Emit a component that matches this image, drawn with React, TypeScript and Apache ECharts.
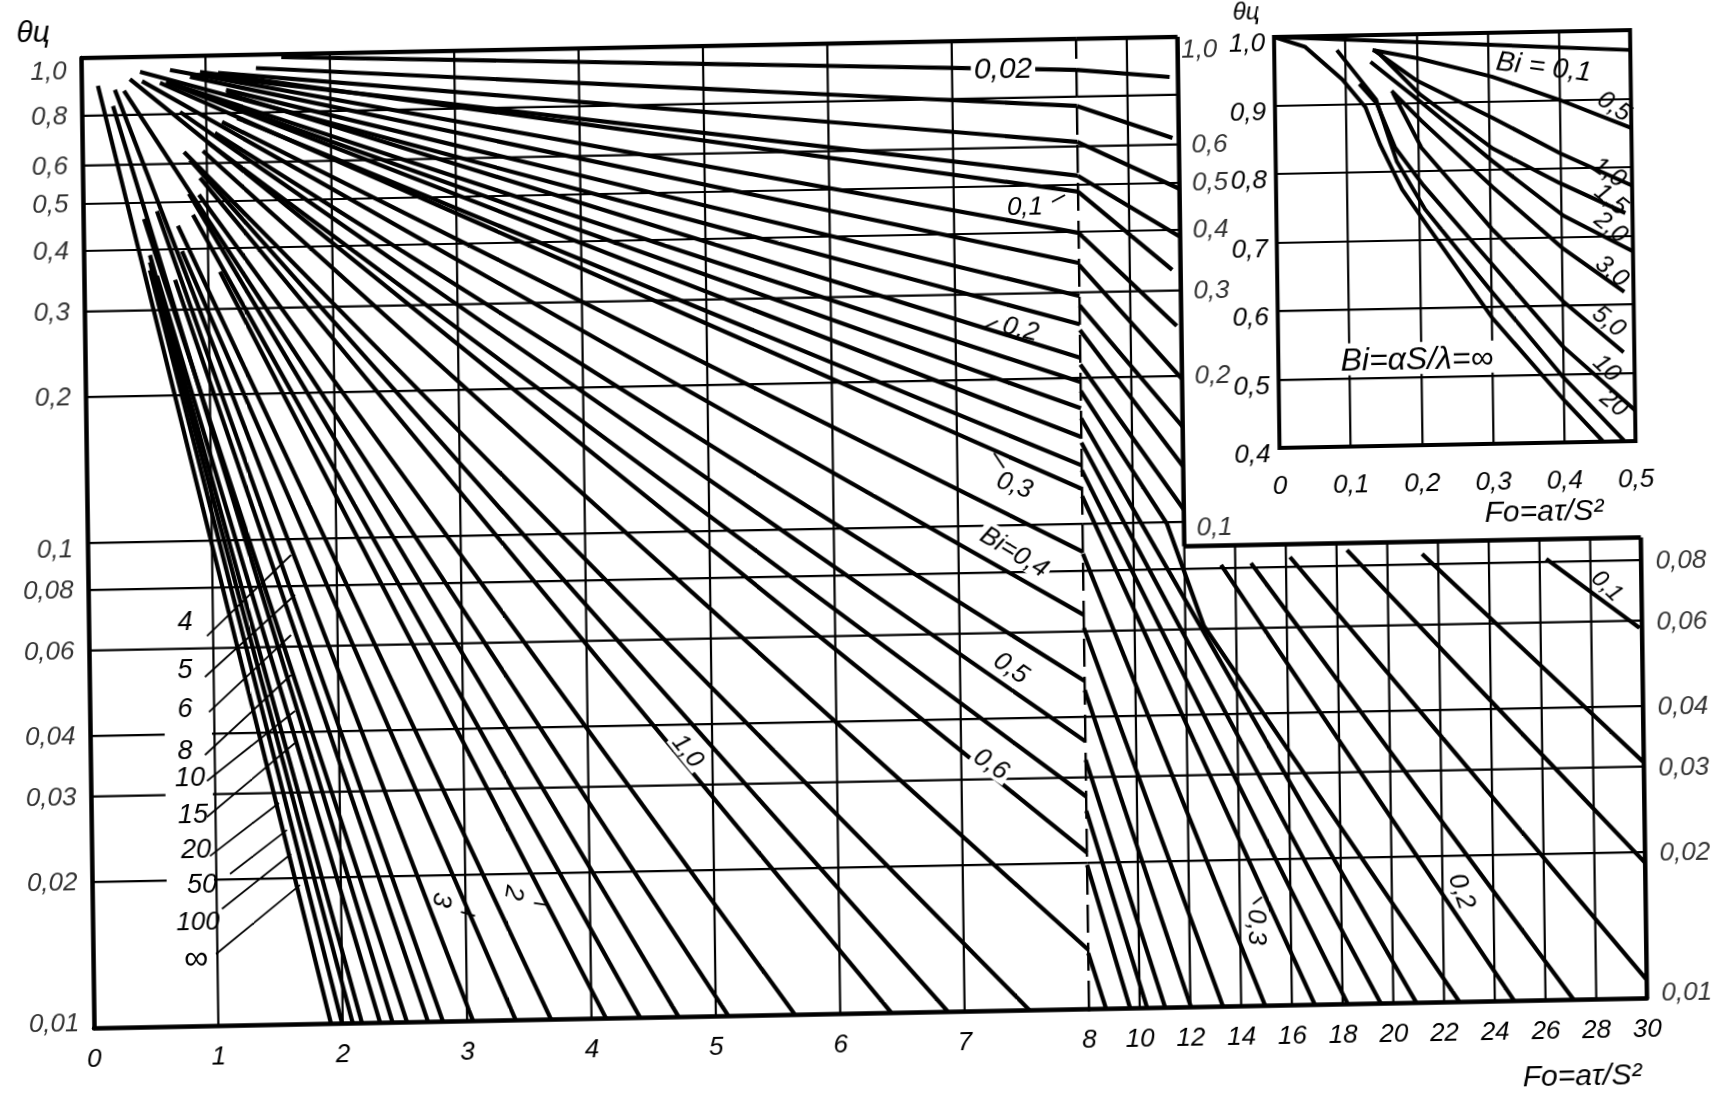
import React, { useEffect, useRef } from "react";
import * as echarts from "echarts";

// ---- main chart: curves that reach Fo = 8 on the left part
const shallowBi = ["0,02","0,04","0,06","0,08","0,1","0,12","0,14","0,16","0,18","0,2","0,22","0,24","0,26","0,28","0,3","0,35","0,4","0,45","0,5","0,55","0,6","0,7"];
const shallowFoStart = [1.61,1.405,1.10,0.93,0.955,0.714,0.874,1.162,0.473,1.162,0.712,0.953,0.68,1.248,0.632,1.126,0.488,1.068,0.79,1.004,0.391,0.97];
const shallowThetaStart = [0.986,0.938,0.92,0.913,0.926,0.937,0.905,0.848,0.931,0.836,0.881,0.83,0.885,0.741,0.882,0.729,0.891,0.692,0.767,0.664,0.90,0.636];
const shallowThetaAt8 = [0.863,0.727,0.613,0.522,0.484,0.398,0.345,0.295,0.258,0.22,0.196,0.173,0.151,0.132,0.118,0.0875,0.0649,0.0474,0.0356,0.0274,0.021,0.01324];

// ---- curves that reach the bottom (0,01) before Fo = 8
const steepBi = ["0,8","0,9","1,0","1,2","1,4","1,6","1,8","2","2,5","3","4","5","6","8","10","15","20","50","100","∞"];
const steepFoStart = [0.818,0.865,0.944,0.933,0.342,0.853,0.883,1.094,0.761,0.791,0.269,0.594,0.732,0.489,0.252,0.587,0.533,0.532,0.531,0.133];
const steepThetaStart = [0.634,0.61,0.56,0.517,0.852,0.52,0.47,0.358,0.447,0.396,0.857,0.48,0.346,0.463,0.794,0.353,0.39,0.377,0.363,0.875];
const steepFoBottom = [7.52,6.865,6.41,5.635,5.10,4.70,4.39,4.116,3.674,3.39,3.047,2.805,2.685,2.516,2.40,2.30,2.154,2.08,1.994,1.905];

// ---- right part (Fo 8..30)
const rightTopBi = ["0,02","0,04","0,06","0,08","0,1","0,12","0,14","0,16","0,18","0,2"];
const rightTopTheta8 = [0.863,0.727,0.613,0.522,0.484,0.398,0.342,0.282,0.251,0.213];
const rightTopFoEnd = [11.67,11.75,12,12,11.67,11.82,12,12,12,12];
const rightTopThetaEnd = [0.827,0.619,0.486,0.387,0.331,0.2535,0.197,0.157,0.13,0.106];

const rightLowBi = ["0,24","0,26","0,28","0,3","0,35","0,4","0,45","0,5","0,55","0,6","0,7"];
const rightLowTheta8 = [0.165,0.147,0.129,0.114,0.0867,0.061,0.0454,0.0326,0.0256,0.0198,0.01303];
const rightLowFoBottom = [20.9,19.5,18.2,16.9,14.94,13.28,12.02,11.0,10.29,9.62,8.67];
const curve022Right: [number, number][] = [[8,0.188],[11.33,0.0992],[12.73,0.0609],[22.6,0.01]];

const tailBi = ["0,2","0,18","0,16","0,14","0,12","0,1"];
const tailFoStart = [13.44,14.62,16.16,18.41,21.37,26.26];
const tailThetaStart = [0.0812,0.0817,0.0838,0.0862,0.084,0.0811];
const tailFoEnd = [24.76,27.1,30,30,30,29.9];
const tailThetaEnd = [0.01,0.01,0.0109,0.019,0.0306,0.058];

// ---- inset
const insetCurves: [string, [number, number][]][] = [
  ["0,1", [[0,1],[0.5,0.971]]],
  ["0,5", [[0.138,0.978],[0.201,0.965],[0.305,0.936],[0.4,0.9],[0.5,0.857]]],
  ["1,0", [[0.14,0.978],[0.2,0.932],[0.305,0.876],[0.4,0.822],[0.5,0.773]]],
  ["1,5", [[0.149,0.971],[0.204,0.912],[0.305,0.831],[0.398,0.779],[0.49,0.733]]],
  ["2,0", [[0.135,0.961],[0.206,0.9],[0.304,0.813],[0.403,0.731],[0.5,0.677]]],
  ["3,0", [[0.164,0.918],[0.205,0.874],[0.304,0.775],[0.402,0.683],[0.487,0.618]]],
  ["5,0", [[0.166,0.915],[0.205,0.834],[0.303,0.713],[0.401,0.606],[0.485,0.53]]],
  ["10", [[0.119,0.929],[0.143,0.9],[0.168,0.835],[0.207,0.779],[0.302,0.662],[0.4,0.54],[0.5,0.445]]],
  ["20", [[0.088,0.979],[0.142,0.906],[0.17,0.815],[0.209,0.744],[0.301,0.622],[0.4,0.495],[0.484,0.401]]],
  ["∞", [[0,1],[0.043,0.985],[0.095,0.936],[0.127,0.895],[0.147,0.84],[0.177,0.774],[0.206,0.729],[0.301,0.584],[0.402,0.46],[0.455,0.4]]],
];

// ---- axis ticks (the row labelled 0,8 is drawn a little low in the source, so it is read as 0,76)
const leftYTicks = [1,0.76,0.6,0.5,0.4,0.3,0.2,0.1,0.08,0.06,0.04,0.03,0.02,0.01];
const leftYLabels = ["1,0","0,8","0,6","0,5","0,4","0,3","0,2","0,1","0,08","0,06","0,04","0,03","0,02","0,01"];
const gappedY = [0.04,0.03,0.02];
const leftVerticals = [1,2,3,4,5,6,7];
const rightTopY = [0.76,0.6,0.5,0.4,0.3,0.2,0.1];
const rightTopTicks = [1,0.6,0.5,0.4,0.3,0.2,0.1];
const rightTopLabels = ["1,0","0,6","0,5","0,4","0,3","0,2","0,1"];
const rightLowY = [0.08,0.06,0.04,0.03,0.02];
const rightLowTicks = [0.08,0.06,0.04,0.03,0.02,0.01];
const rightLowLabels = ["0,08","0,06","0,04","0,03","0,02","0,01"];
const rightTallVerticals = [10,12];
const rightShortVerticals = [14,16,18,20,22,24,26,28,30];
const lowFrameTop = 0.089;

// ---- text annotations: [text, imageX, imageY, clockwise degrees, size, white box]
const notes: [string, number, number, number, number, boolean][] = [
  ["0,02",1003,68,0,30,true],["0,1",1025,206,0,26,false],["0,2",1021,328,15,26,false],["0,3",1015,484,20,26,false],
  ["Bi=0,4",1015,551,32,26,true],["0,5",1012,667,35,26,true],["0,6",992,763,35,26,true],["1,0",689,750,52,25,true],
  ["2",515,893,100,26,false],["3",443,900,100,26,false],
  ["4",185,621,0,27,false],["5",185,669,0,27,false],["6",185,708,0,27,false],["8",185,750,0,27,false],["10",190,777,0,27,false],
  ["15",193,814,0,27,false],["20",196,849,0,27,false],["50",202,884,0,27,false],["100",198,921,0,26,false],["∞",196,957,0,34,false],
  ["0,1",1608,585,45,24,false],["0,2",1463,891,72,26,false],["0,3",1258,927,90,26,false],
  ["Bi = 0,1",1544,66,8,28,false],["0,5",1615,105,35,25,false],["1,0",1610,171,35,25,false],["1,5",1612,198,40,25,false],
  ["2,0",1612,226,40,25,false],["3,0",1613,270,40,25,false],["5,0",1610,320,40,25,false],["10",1608,367,45,25,false],["20",1615,402,40,25,false],
  ["Bi=αS/λ=∞",1417,358,0,32,true],
  ["θц",33,31,0,30,false],["θц",1246,11,0,24,false],
  ["Fo=aτ/S²",1582,1075,0,30,false],["Fo=aτ/S²",1544,510,0,30,false],
];
// ---- thin leaders: imageX1, imageY1, imageX2, imageY2
const leaders = [
  [207,636,291,555],[205,677,295,595],[209,712,291,635],[205,755,291,675],[207,781,295,711],
  [207,817,295,743],[210,856,279,803],[230,874,287,830],[222,909,291,854],[216,954,300,885],
  [994,453,1004,468],[983,328,998,321],[1052,202,1065,195],[1253,904,1262,897],[461,912,475,916],[534,903,547,905],
];

const FONT = '"Liberation Sans",sans-serif';
const SKEW_X = 0.0134, SKEW_Y = -0.0193, SHIFT_X = -13.78, SHIFT_Y = 1.81;
const toChart = (X: number, Y: number) => {
  const dx = X - SHIFT_X, dy = Y - SHIFT_Y, det = 1 - SKEW_X * SKEW_Y;
  return [(dx - SKEW_X * dy) / det, (dy - SKEW_Y * dx) / det];
};

const lineSeries = (name: string, data: (number[])[], axis: number, width: number, extra: any = {}) => ({
  name, type: "line", xAxisIndex: axis, yAxisIndex: axis, data, showSymbol: false, symbol: "none", silent: true, smooth: false,
  lineStyle: { color: "#000", width, cap: "butt", join: "round", ...extra }, z: width > 2.5 ? 3 : 2,
});
// labels at the ends of an axis sit a little inside the frame in the source
const tickOffset = (v: number, dy: number, dxTop: number): number[] =>
  v === 1 ? [dxTop, 12] : v === 0.01 ? [0, -6] : v === 0.1 ? [0, 5] : [0, dy];
const tickSeries = (axis: number, x: number, values: number[], labels: string[], dist: number, pos: string, dy: number, dxTop = 0) => ({
  type: "scatter", xAxisIndex: axis, yAxisIndex: axis, silent: true, symbolSize: 1, itemStyle: { color: "transparent" }, clip: false,
  data: values.map((v, i) => ({ value: [x, v], label: { formatter: labels[i], offset: tickOffset(v, dy, dxTop) } })),
  label: { show: true, position: pos, distance: dist, color: "#000", fontFamily: FONT, fontStyle: "italic", fontSize: 26 },
});

export default function App() {
  const ref = useRef<HTMLDivElement>(null);
  useEffect(() => {
    const chart = echarts.init(ref.current!, undefined, { renderer: "svg" });
    const series: any[] = [];
    const G = 2.2, C = 4.2, F = 4.5;
    // grid lines left
    leftVerticals.forEach((x) => series.push(lineSeries("x" + x, [[x, 0.01], [x, 1]], 0, G)));
    leftYTicks.slice(1, -1).forEach((y) => {
      if (gappedY.includes(y)) {
        series.push(lineSeries("y" + y, [[0, y], [0.6, y]], 0, G));
        series.push(lineSeries("y" + y, [[0.98, y], [8, y]], 0, G));
      } else series.push(lineSeries("y" + y, [[0, y], [8, y]], 0, G));
    });
    series.push(lineSeries("top", [[0, 1], [8, 1]], 0, F));
    // grid lines right
    rightTallVerticals.forEach((x) => series.push(lineSeries("x" + x, [[x, 0.01], [x, 1]], 1, G)));
    rightShortVerticals.forEach((x) => series.push(lineSeries("x" + x, [[x, 0.01], [x, lowFrameTop]], 1, x === 30 ? F : G)));
    rightTopY.forEach((y) => series.push(lineSeries("y" + y, [[8, y], [12, y]], 1, G)));
    rightLowY.forEach((y) => series.push(lineSeries("y" + y, [[8, y], [30, y]], 1, G)));
    series.push(lineSeries("top", [[8, 1], [12, 1]], 1, F));
    series.push(lineSeries("edge12", [[12, lowFrameTop], [12, 1]], 1, F));
    series.push(lineSeries("edgeLow", [[12, lowFrameTop], [30, lowFrameTop]], 1, F));
    series.push(lineSeries("x8", [[8, 0.01], [8, 1]], 1, 2.4, { type: [28, 10] }));
    // curves
    shallowBi.forEach((b, i) => series.push(lineSeries("Bi=" + b, [[shallowFoStart[i], shallowThetaStart[i]], [8, shallowThetaAt8[i]]], 0, C)));
    steepBi.forEach((b, i) => series.push(lineSeries("Bi=" + b, [[steepFoStart[i], steepThetaStart[i]], [steepFoBottom[i], 0.01]], 0, C)));
    rightTopBi.forEach((b, i) => series.push(lineSeries("Bi=" + b, [[8, rightTopTheta8[i]], [rightTopFoEnd[i], rightTopThetaEnd[i]]], 1, C)));
    rightLowBi.forEach((b, i) => series.push(lineSeries("Bi=" + b, [[8, rightLowTheta8[i]], [rightLowFoBottom[i], 0.01]], 1, C)));
    series.push(lineSeries("Bi=0,22", curve022Right, 1, C));
    tailBi.forEach((b, i) => series.push(lineSeries("Bi=" + b, [[tailFoStart[i], tailThetaStart[i]], [tailFoEnd[i], tailThetaEnd[i]]], 1, C)));
    insetCurves.forEach(([b, pts]) => series.push(lineSeries("inset Bi=" + b, pts, 2, 4)));
    // tick labels
    series.push(tickSeries(0, 0, leftYTicks, leftYLabels, 14, "left", -1));
    series.push(tickSeries(1, 12, rightTopTicks, rightTopLabels, 12, "right", -1, -9));
    series.push(tickSeries(1, 30, rightLowTicks, rightLowLabels, 14, "right", 0));

    const axisLabel = { color: "#000", fontFamily: FONT, fontStyle: "italic", fontSize: 26 };
    const elements: any[] = [];
    leaders.forEach(([x1, y1, x2, y2]) => {
      const a = toChart(x1, y1), b = toChart(x2, y2);
      elements.push({ type: "line", z: 5, shape: { x1: a[0], y1: a[1], x2: b[0], y2: b[1] }, style: { stroke: "#000", lineWidth: 1.8 } });
    });
    notes.forEach(([text, X, Y, deg, size, box]) => {
      const p = toChart(X, Y);
      elements.push({
        type: "text", z: 10, x: p[0], y: p[1], rotation: (-deg * Math.PI) / 180,
        style: { text, fontFamily: FONT, fontStyle: "italic", fontSize: size, fill: "#000", align: "center", verticalAlign: "middle",
          backgroundColor: box ? "#fff" : undefined, padding: box ? [0, 3] : 0 },
      });
    });

    chart.setOption({
      animation: false,
      backgroundColor: "#fff",
      grid: [
        { left: 94, top: 58, width: 995, height: 970 },
        { left: 1089, top: 58, width: 558, height: 970 },
        { left: 1287, top: 60, width: 356, height: 411, show: true, borderColor: "#000", borderWidth: 4 },
      ],
      xAxis: [
        { gridIndex: 0, type: "value", min: 0, max: 8, interval: 1, splitLine: { show: false }, axisTick: { show: false },
          axisLine: { show: true, onZero: false, lineStyle: { color: "#000", width: F } },
          axisLabel: { ...axisLabel, margin: 17, formatter: (v: number) => (v === 8 ? "" : String(v)) } },
        { gridIndex: 1, type: "value", min: 8, max: 30, interval: 2, splitLine: { show: false }, axisTick: { show: false },
          axisLine: { show: true, onZero: false, lineStyle: { color: "#000", width: F } },
          axisLabel: { ...axisLabel, margin: 17 } },
        { gridIndex: 2, type: "value", min: 0, max: 0.5, interval: 0.1, axisTick: { show: false },
          splitLine: { show: true, lineStyle: { color: "#000", width: G } },
          axisLine: { show: false, onZero: false },
          axisLabel: { ...axisLabel, margin: 24, formatter: (v: number) => (v === 0 ? "0" : v.toFixed(1).replace(".", ",")) } },
      ],
      yAxis: [
        { gridIndex: 0, type: "log", min: 0.01, max: 1, logBase: 10, splitLine: { show: false }, minorSplitLine: { show: false }, axisTick: { show: false },
          axisLabel: { show: false }, axisLine: { show: true, onZero: false, lineStyle: { color: "#000", width: F } } },
        { gridIndex: 1, type: "log", min: 0.01, max: 1, logBase: 10, splitLine: { show: false }, minorSplitLine: { show: false }, axisTick: { show: false },
          axisLabel: { show: false }, axisLine: { show: false, onZero: false } },
        { gridIndex: 2, type: "value", min: 0.4, max: 1, interval: 0.1, axisTick: { show: false },
          splitLine: { show: true, lineStyle: { color: "#000", width: G } },
          axisLine: { show: false, onZero: false },
          axisLabel: { ...axisLabel, margin: 9, verticalAlign: "top", padding: [-8, 0, 0, 0], formatter: (v: number) => v.toFixed(1).replace(".", ",") } },
      ],
      series,
      graphic: { elements },
    });
    return () => chart.dispose();
  }, []);
  return (
    <div
      ref={ref}
      style={{
        position: "fixed", left: 0, top: 0, width: 1800, height: 1180, transformOrigin: "0 0",
        transform: `matrix(1,${SKEW_Y},${SKEW_X},1,${SHIFT_X},${SHIFT_Y})`,
      }}
    />
  );
}
